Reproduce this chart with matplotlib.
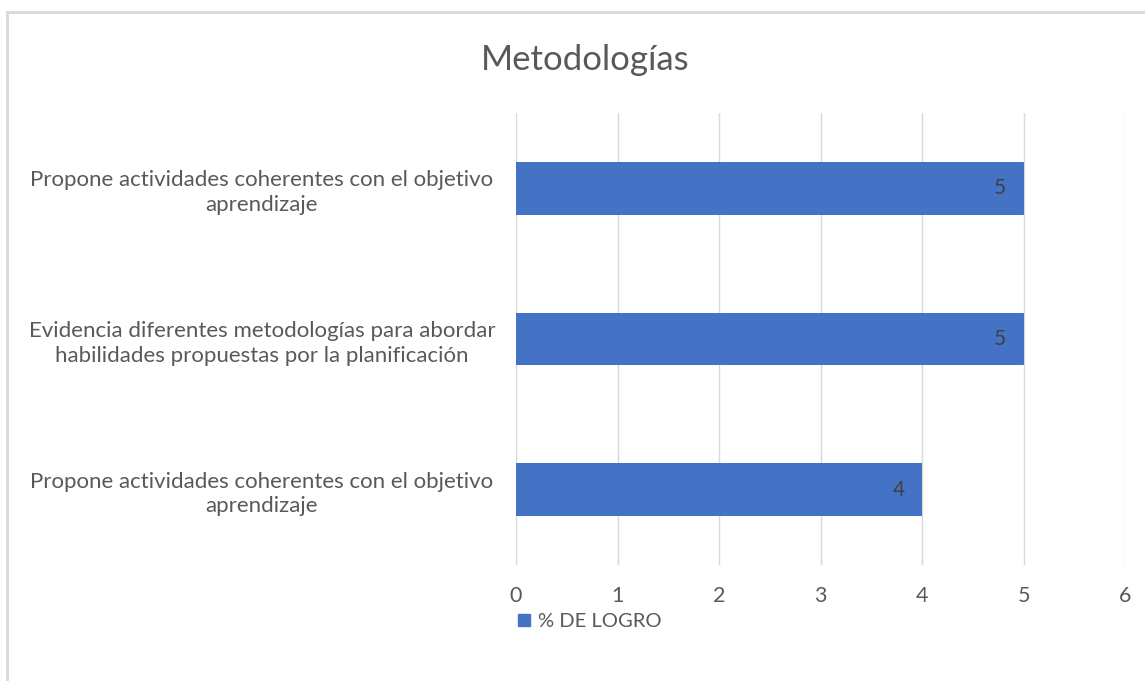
import matplotlib.pyplot as plt
from matplotlib.lines import Line2D

categories = [
    "Propone actividades coherentes con el objetivo\naprendizaje",
    "Evidencia diferentes metodologías para abordar\nhabilidades propuestas por la planificación",
    "Propone actividades coherentes con el objetivo\naprendizaje",
]
values = [4, 5, 5]
xticks = [0, 1, 2, 3, 4, 5, 6]
series_name = "% DE LOGRO"

bar_color = "#4472C4"
text_color = "#595959"
plt.rcParams['font.family'] = ['Lato', 'DejaVu Sans']

fig = plt.figure(figsize=(11.45, 6.81), dpi=100)
ax = fig.add_axes([0.4507, 0.1703, 0.5319, 0.6637])

pos = list(range(len(categories)))
bars = ax.barh(pos, values, height=0.35, color=bar_color)
for b, v in zip(bars, values):
    ax.text(b.get_width() - 0.17, b.get_y() + b.get_height() / 2, str(v),
            ha="right", va="center", fontsize=15, color="#404040")

ax.set_xlim(0, 6)
ax.set_ylim(-0.5, 2.5)
ax.set_xticks(xticks)
ax.set_xticklabels([str(t) for t in xticks], fontsize=15.5, color=text_color)
ax.set_yticks(pos)
ax.set_yticklabels(categories, fontsize=16, color=text_color, ha="center",
                   linespacing=1.3)
ax.tick_params(axis="y", length=0, pad=183)
ax.tick_params(axis="x", length=0, pad=15)
ax.grid(axis="x", color="#d9d9d9", linewidth=1)
ax.set_axisbelow(True)
for s in ax.spines.values():
    s.set_visible(False)

fig.text(0.511, 0.912, "Metodologías", ha="center", va="center",
         fontsize=25, color=text_color)

handle = Line2D([], [], marker="s", linestyle="none", markersize=8.5,
                color=bar_color)
fig.legend([handle], [series_name], loc="center left",
           bbox_to_anchor=(0.449, 0.088), frameon=False, fontsize=14.5,
           labelcolor=text_color, handletextpad=0.2, handlelength=1.0,
           borderpad=0, borderaxespad=0)

# chart frame (top and left edges visible in the original)
fig.add_artist(Line2D([0.0065, 1.0], [0.983, 0.983], color="#d9d9d9",
                      linewidth=2, transform=fig.transFigure))
fig.add_artist(Line2D([0.0065, 0.0065], [0.0, 0.983], color="#d9d9d9",
                      linewidth=2, transform=fig.transFigure))

fig.savefig("out.png", dpi=100)
